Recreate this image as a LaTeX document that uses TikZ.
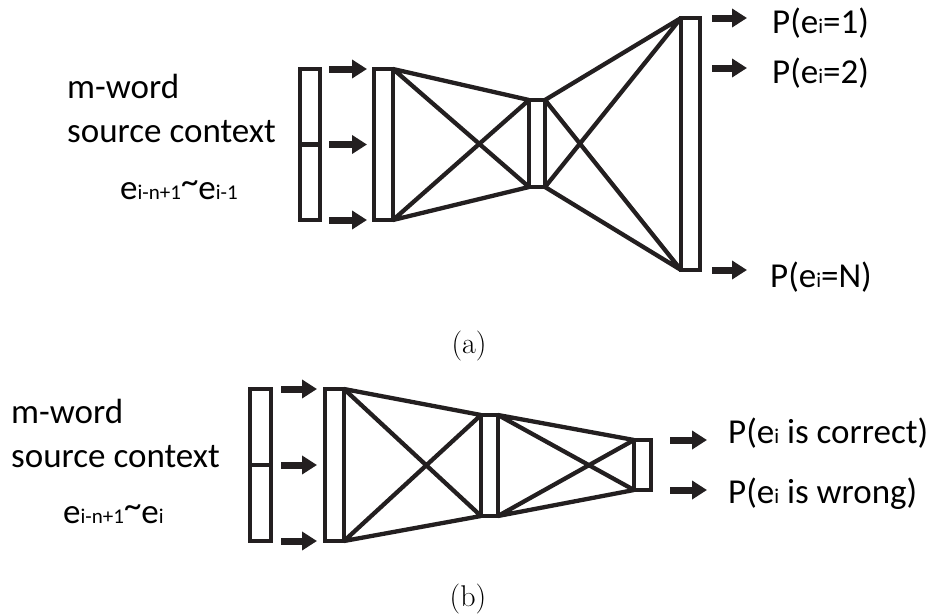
\documentclass[tikz,border=0pt]{standalone}
\usepackage{fontspec}
\newfontfamily\calfont{Carlito}
\usetikzlibrary{arrows.meta}
\definecolor{ink}{HTML}{231F20}
\newcommand\sm[1]{{\fontsize{21}{21}\selectfont #1}}
\newcommand\tld{\raisebox{6pt}{\textasciitilde}}
\begin{document}
\begin{tikzpicture}[x=1pt,y=-1pt,
  box/.style={draw=ink, line width=4.3pt, inner sep=0pt, outer sep=0pt, rectangle},
  conn/.style={draw=ink, line width=4.3pt},
  arr/.style={draw=ink, line width=7pt, -{Triangle[length=15pt,width=18pt]}},
  lbl/.style={anchor=base west, inner sep=0pt, text=black, font=\calfont\fontsize{35}{40}\selectfont},
  captext/.style={anchor=base, inner sep=0pt, font=\fontsize{30}{32}\selectfont}]
\useasboundingbox (0,0) rectangle (936,613);

% ---------- (a) ----------
\node[box, minimum width=20pt, minimum height=151pt] (a1) at (310,144.5) {};
\draw[conn] (a1.west) -- (a1.east);
\node[box, minimum width=19pt, minimum height=151pt] (a2) at (383.5,144.5) {};
\node[box, minimum width=16pt, minimum height=87pt] (a3) at (537,143.5) {};
\node[box, minimum width=19pt, minimum height=252pt] (a4) at (690.5,144) {};

\draw[conn] (a2.north east) -- (a3.north west)
            (a2.north east) -- (a3.south west)
            (a2.south east) -- (a3.north west)
            (a2.south east) -- (a3.south west);
\draw[conn] (a3.north east) -- (a4.north west)
            (a3.north east) -- (a4.south west)
            (a3.south east) -- (a4.north west)
            (a3.south east) -- (a4.south west);

\draw[arr] ([xshift=9pt]a1.north east) -- ([xshift=-7pt]a2.north west);
\draw[arr] ([xshift=9pt]a1.east) -- ([xshift=-7pt]a2.west);
\draw[arr] ([xshift=9pt]a1.south east) -- ([xshift=-7pt]a2.south west);

\draw[arr] ([xshift=12pt]a4.north east) -- ++(35,0);
\draw[arr] ([xshift=12pt,yshift=-50pt]a4.north east) -- ++(35,0);
\draw[arr] ([xshift=12pt]a4.south east) -- ++(35,0);

\node[lbl] (am) at (67,98) {m-word};
\node[lbl] (as) at (67,142) {source context};
\node[lbl] (ae) at (120,199) {e\sm{i-n+1}\tld e\sm{i-1}};
\node[lbl] (p1) at (772,33) {P(e\sm{i}=1)};
\node[lbl] (p2) at (772,83) {P(e\sm{i}=2)};
\node[lbl] (pn) at (770,287) {P(e\sm{i}=N)};
\node[captext] (capa) at (469,353) {(a)};

% ---------- (b) ----------
\node[box, minimum width=21pt, minimum height=152pt] (b1) at (260.5,465) {};
\draw[conn] (b1.west) -- (b1.east);
\node[box, minimum width=19pt, minimum height=152pt] (b2) at (334.5,465) {};
\node[box, minimum width=17pt, minimum height=101pt] (b3) at (489.5,465.5) {};
\node[box, minimum width=17pt, minimum height=50pt] (b4) at (642.5,465) {};

\draw[conn] (b2.north east) -- (b3.north west)
            (b2.north east) -- (b3.south west)
            (b2.south east) -- (b3.north west)
            (b2.south east) -- (b3.south west);
\draw[conn] (b3.north east) -- (b4.north west)
            (b3.north east) -- (b4.south west)
            (b3.south east) -- (b4.north west)
            (b3.south east) -- (b4.south west);

\draw[arr] ([xshift=10pt]b1.north east) -- ([xshift=-8pt]b2.north west);
\draw[arr] ([xshift=10pt]b1.east) -- ([xshift=-8pt]b2.west);
\draw[arr] ([xshift=10pt]b1.south east) -- ([xshift=-8pt]b2.south west);

\draw[arr] ([xshift=19pt]b4.north east) -- ++(37,0);
\draw[arr] ([xshift=19pt]b4.south east) -- ++(37,0);

\node[lbl] (bm) at (11,423) {m-word};
\node[lbl] (bs) at (11,467) {source context};
\node[lbl] (be) at (63,523) {e\sm{i-n+1}\tld e\sm{i}};
\node[lbl] (pc) at (728,443) {P(e\sm{i} is correct)};
\node[lbl] (pw) at (728,503) {P(e\sm{i} is wrong)};
\node[captext] (capb) at (468,606) {(b)};
\end{tikzpicture}
\end{document}
